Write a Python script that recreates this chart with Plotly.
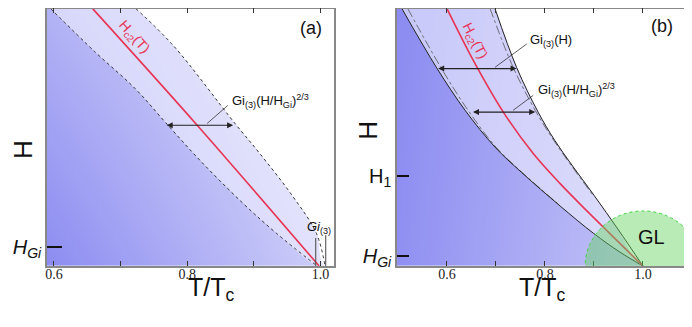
import plotly.graph_objects as go

# ---- panel (a): reduced temperature vs field, straight Hc2 line
a_hc2_t = [0.658, 0.815, 0.998]
a_hc2_h = [1.0, 0.547, 0.0]
a_left_t = [0.595, 0.662, 0.722, 0.767, 0.819, 0.884, 0.934, 0.995]
a_left_h = [1.0, 0.831, 0.689, 0.559, 0.411, 0.243, 0.127, 0.0]
a_right_t = [0.723, 0.779, 0.872, 0.909, 0.959, 0.994, 1.007]
a_right_h = [1.0, 0.857, 0.553, 0.437, 0.269, 0.127, 0.0]
a_arrow_h = 0.547
a_arrow_t = [0.767, 0.869]
a_leader_t = [0.830, 0.861]
a_leader_h = [0.554, 0.624]
a_gi_t = [0.993, 1.008]
a_gi_top = [0.109, 0.120]
a_hgi = 0.074

# ---- panel (b): curved Hc2 line
b_hc2_t = [0.600, 0.654, 0.715, 0.776, 0.831, 0.885, 0.933, 1.0]
b_hc2_h = [1.0, 0.798, 0.598, 0.437, 0.320, 0.215, 0.125, 0.0]
b_left_t = [0.508, 0.579, 0.637, 0.698, 0.752, 0.831, 0.899, 0.953, 1.0]
b_left_h = [1.0, 0.770, 0.605, 0.462, 0.364, 0.233, 0.127, 0.054, 0.0]
b_right_t = [0.698, 0.742, 0.786, 0.820, 0.855, 0.900, 0.950, 1.0]
b_right_h = [1.0, 0.772, 0.598, 0.488, 0.392, 0.275, 0.140, 0.0]
b_ldash_t = [0.520, 0.588, 0.643, 0.700, 0.753, 0.832]
b_ldash_h = [1.0, 0.770, 0.605, 0.462, 0.364, 0.233]
b_rdash_t = [0.688, 0.735, 0.782, 0.818, 0.853, 0.898]
b_rdash_h = [1.0, 0.772, 0.598, 0.488, 0.392, 0.275]
b_arrow1_h = 0.767
b_arrow1_t = [0.579, 0.742]
b_arrow2_h = 0.598
b_arrow2_t = [0.650, 0.780]
b_leader1_t = [0.698, 0.763]
b_leader1_h = [0.772, 0.863]
b_leader2_t = [0.735, 0.776]
b_leader2_h = [0.605, 0.663]
b_hgi = 0.039
b_h1 = 0.349
gl_center = (1.0, 0.0)
gl_radius = (0.118, 0.214)

tick_vals = [0.6, 0.7, 0.8, 0.9, 1.0]
tick_text = ["0.6", "", "0.8", "", "1.0"]

A_RANGE = [0.5895, 1.0204]
B_RANGE = [0.498, 1.0837]

RED = "rgb(232,52,84)"
SANS = "Liberation Sans"
SERIF = "Liberation Serif"

# the page body keeps an 8px margin, so the figure is 8px smaller each way
W, H = 684, 319

fig = go.Figure()


def panel(xa, ya, xr, left_t, left_h, right_t, right_h, z):
    # gradient background
    fig.add_trace(go.Heatmap(x=[xr[0] - 0.01, xr[1] + 0.01], y=[-0.01, 1.01], z=z,
                             zmin=0, zmax=1, zsmooth="best", showscale=False,
                             colorscale=[[0, "#8a8af1"], [1, "#e8e8fc"]],
                             hoverinfo="skip", xaxis=xa, yaxis=ya))
    # lighter band between boundaries
    fig.add_trace(go.Scatter(x=left_t + right_t[::-1], y=left_h + right_h[::-1],
                             fill="toself", fillcolor="rgba(240,240,255,0.6)",
                             mode="none", line_shape="spline", hoverinfo="skip",
                             xaxis=xa, yaxis=ya))
    # white outside
    fig.add_trace(go.Scatter(x=right_t + [xr[1] + 0.05, xr[1] + 0.05, right_t[0]],
                             y=right_h + [0, 1.05, 1.05],
                             fill="toself", fillcolor="white", mode="none",
                             line_shape="spline", hoverinfo="skip", xaxis=xa, yaxis=ya))


panel("x", "y", A_RANGE, a_left_t, a_left_h, a_right_t, a_right_h, [[0.0, 0.75], [0.42, 1.0]])
panel("x2", "y2", B_RANGE, b_left_t, b_left_h, b_right_t, b_right_h, [[0.05, 0.72], [0.0, 0.62]])


def line(x, y, xa, ya, color="#333", width=1, dash="solid", shape="spline"):
    fig.add_trace(go.Scatter(x=x, y=y, mode="lines", hoverinfo="skip",
                             line=dict(color=color, width=width, dash=dash, shape=shape),
                             xaxis=xa, yaxis=ya))


# panel (a) lines
line(a_left_t, a_left_h, "x", "y", "#333", 1, "3px,3px")
line(a_right_t, a_right_h, "x", "y", "#333", 1, "3px,3px")
line(a_hc2_t, a_hc2_h, "x", "y", RED, 1.6)
line(a_leader_t, a_leader_h, "x", "y", "#333", 0.8, shape="linear")
for t, top in zip(a_gi_t, a_gi_top):
    line([t, t], [0, top], "x", "y", "#444", 1, shape="linear")

# panel (b) lines
line(b_ldash_t, b_ldash_h, "x2", "y2", "#555", 0.8, "dashdot")
line(b_rdash_t, b_rdash_h, "x2", "y2", "#555", 0.8, "dashdot")
line(b_left_t, b_left_h, "x2", "y2", "#222", 1)
line(b_right_t, b_right_h, "x2", "y2", "#222", 1)
line(b_hc2_t, b_hc2_h, "x2", "y2", RED, 1.6)
line(b_leader1_t, b_leader1_h, "x2", "y2", "#333", 0.8, shape="linear")
line(b_leader2_t, b_leader2_h, "x2", "y2", "#333", 0.8, shape="linear")

annotations = []


def arrow(t, h, xa, ya):
    annotations.append(dict(x=t[1], y=h, ax=t[0], ay=h, xref=xa, yref=ya,
                            axref=xa, ayref=ya, text="", showarrow=True,
                            arrowhead=2, arrowsize=1, arrowwidth=1.2,
                            arrowside="end+start", arrowcolor="#222"))


arrow(a_arrow_t, a_arrow_h, "x", "y")
arrow(b_arrow1_t, b_arrow1_h, "x2", "y2")
arrow(b_arrow2_t, b_arrow2_h, "x2", "y2")


def text(s, x, y, xref, yref, size=13, color="#111", angle=0, xanchor="center",
         yanchor="middle", family=SANS):
    annotations.append(dict(text=s, x=x, y=y, xref=xref, yref=yref, showarrow=False,
                            textangle=angle, xanchor=xanchor, yanchor=yanchor,
                            font=dict(family=family, size=size, color=color)))


gi23 = "Gi<sub>(3)</sub>(H/H<sub>Gi</sub>)<sup>2/3</sup>"
text(gi23, 0.864, 0.643, "x", "y", xanchor="left")
text("<i>Gi</i><sub>(3)</sub>", 0.977, 0.151, "x", "y", size=13, xanchor="left")
text("H<sub>c2</sub>(T)", 0.72, 0.89, "x", "y", size=14, color=RED, angle=48)
text("(a)", 0.986, 0.925, "x", "y", size=18)

text("Gi<sub>(3)</sub>(H)", 0.765, 0.876, "x2", "y2", xanchor="left")
text(gi23, 0.7816, 0.682, "x2", "y2", xanchor="left")
text("H<sub>c2</sub>(T)", 0.657, 0.876, "x2", "y2", size=14, color=RED, angle=63)
text("(b)", 1.038, 0.934, "x2", "y2", size=18)
text("GL", 1.018, 0.112, "x2", "y2", size=20)

# axis titles
text("T/T<sub>c</sub>", 0.298, 0.118, "paper", "paper", size=25)
text("T/T<sub>c</sub>", 0.782, 0.118, "paper", "paper", size=25)
text("H", 0.022, 0.555, "paper", "paper", size=26, angle=-90)
text("H", 0.526, 0.618, "paper", "paper", size=26, angle=-90)

hgi = "<i>H</i><sub><i>Gi</i></sub>"

xcommon = dict(tickvals=tick_vals, ticktext=tick_text, ticks="inside", ticklen=5,
               tickcolor="#333", showline=True, linecolor="#888", linewidth=1.5,
               mirror="ticks", showgrid=False, zeroline=False, automargin=False,
               ticklabelstandoff=-6,
               tickfont=dict(family=SERIF, size=14, color="#222"))
ycommon = dict(range=[0, 1], ticks="inside", tickcolor="#111", tickwidth=1.5,
               showline=True, linecolor="#888", linewidth=1.5, mirror=True,
               showgrid=False, zeroline=False, automargin=False,
               tickfont=dict(family=SANS, size=20, color="#111"))

fig.update_layout(
    width=W, height=H,
    margin=dict(l=0, r=0, t=0, b=0),
    paper_bgcolor="white", plot_bgcolor="white",
    showlegend=False,
    xaxis=dict(domain=[0.0570, 0.4766], range=A_RANGE, anchor="y", **xcommon),
    yaxis=dict(domain=[0.1912, 0.998], anchor="x", tickvals=[a_hgi], ticktext=[hgi],
               ticklen=15, **ycommon),
    xaxis2=dict(domain=[0.5687, 0.9883], range=B_RANGE, anchor="y2", **xcommon),
    yaxis2=dict(domain=[0.1912, 0.998], anchor="x2", tickvals=[b_hgi, b_h1],
                ticktext=[hgi, "H<sub>1</sub>"], ticklen=12, **ycommon),
    annotations=annotations,
    shapes=[dict(type="circle", xref="x2", yref="y2", layer="above",
                 x0=gl_center[0] - gl_radius[0], x1=gl_center[0] + gl_radius[0],
                 y0=gl_center[1] - gl_radius[1], y1=gl_center[1] + gl_radius[1],
                 fillcolor="rgba(100,210,95,0.45)",
                 line=dict(color="#3cd43c", width=1, dash="dot"))],
)

fig.write_html("out.html")
